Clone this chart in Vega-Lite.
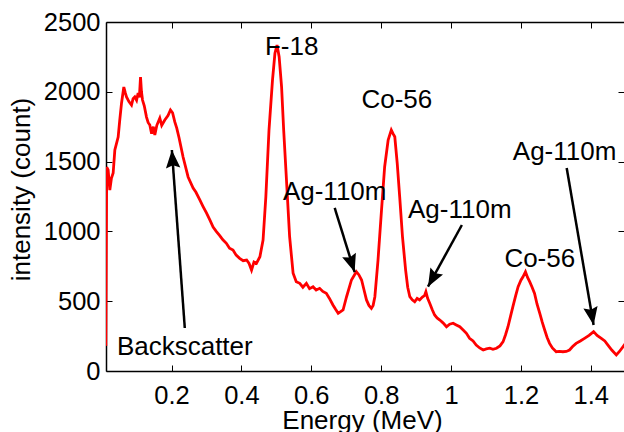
{
  "$schema": "https://vega.github.io/schema/vega-lite/v6.json",
  "autosize": "none",
  "padding": {"left": 106, "top": 22, "right": 0, "bottom": 61},
  "width": 518,
  "height": 349,
  "background": "white",
  "config": {
    "view": {"stroke": null},
    "font": "Liberation Sans",
    "axis": {
      "labelFont": "Liberation Sans", "labelFontSize": 25.5, "labelColor": "#000",
      "titleFont": "Liberation Sans", "titleFontSize": 26, "titleFontWeight": "normal", "titleColor": "#000",
      "domainColor": "#000", "domainWidth": 1.5, "tickColor": "#000", "tickWidth": 1, "tickSize": -6,
      "grid": false
    }
  },
  "datasets": {
    "spectrum": [
      {"e": 0.012, "c": 180}, {"e": 0.0145, "c": 1460}, {"e": 0.0186, "c": 1440}, {"e": 0.0234, "c": 1296},
      {"e": 0.028, "c": 1380}, {"e": 0.033, "c": 1418}, {"e": 0.0378, "c": 1583}, {"e": 0.0473, "c": 1676},
      {"e": 0.052, "c": 1800}, {"e": 0.057, "c": 1920}, {"e": 0.0635, "c": 2034}, {"e": 0.068, "c": 1990},
      {"e": 0.0712, "c": 1963}, {"e": 0.078, "c": 1930}, {"e": 0.0855, "c": 1905}, {"e": 0.09, "c": 1950},
      {"e": 0.095, "c": 1963}, {"e": 0.1, "c": 1940}, {"e": 0.1044, "c": 1991}, {"e": 0.108, "c": 1960},
      {"e": 0.1113, "c": 2106}, {"e": 0.114, "c": 2000}, {"e": 0.117, "c": 1941}, {"e": 0.122, "c": 1900},
      {"e": 0.1284, "c": 1819}, {"e": 0.133, "c": 1780}, {"e": 0.1379, "c": 1762}, {"e": 0.143, "c": 1700},
      {"e": 0.148, "c": 1750}, {"e": 0.1522, "c": 1690}, {"e": 0.158, "c": 1760}, {"e": 0.1665, "c": 1812},
      {"e": 0.172, "c": 1760}, {"e": 0.1808, "c": 1798}, {"e": 0.19, "c": 1830}, {"e": 0.197, "c": 1870},
      {"e": 0.203, "c": 1850}, {"e": 0.2094, "c": 1784}, {"e": 0.215, "c": 1740}, {"e": 0.2217, "c": 1669},
      {"e": 0.2331, "c": 1533}, {"e": 0.2475, "c": 1390}, {"e": 0.2618, "c": 1311}, {"e": 0.27, "c": 1280},
      {"e": 0.281, "c": 1225}, {"e": 0.29, "c": 1180}, {"e": 0.3, "c": 1132}, {"e": 0.31, "c": 1080},
      {"e": 0.319, "c": 1031}, {"e": 0.328, "c": 1000}, {"e": 0.338, "c": 970}, {"e": 0.347, "c": 940},
      {"e": 0.357, "c": 915}, {"e": 0.366, "c": 880}, {"e": 0.376, "c": 867}, {"e": 0.385, "c": 830},
      {"e": 0.395, "c": 807}, {"e": 0.405, "c": 790}, {"e": 0.415, "c": 795}, {"e": 0.422, "c": 770},
      {"e": 0.429, "c": 723}, {"e": 0.436, "c": 780}, {"e": 0.443, "c": 771}, {"e": 0.453, "c": 819},
      {"e": 0.462, "c": 938}, {"e": 0.47, "c": 1249}, {"e": 0.479, "c": 1726}, {"e": 0.489, "c": 2084},
      {"e": 0.496, "c": 2276}, {"e": 0.502, "c": 2335}, {"e": 0.508, "c": 2251}, {"e": 0.515, "c": 2036},
      {"e": 0.521, "c": 1726}, {"e": 0.529, "c": 1368}, {"e": 0.538, "c": 962}, {"e": 0.548, "c": 700},
      {"e": 0.557, "c": 640}, {"e": 0.567, "c": 628}, {"e": 0.576, "c": 600}, {"e": 0.586, "c": 628},
      {"e": 0.595, "c": 590}, {"e": 0.605, "c": 604}, {"e": 0.614, "c": 580}, {"e": 0.624, "c": 592},
      {"e": 0.633, "c": 570}, {"e": 0.643, "c": 556}, {"e": 0.652, "c": 520}, {"e": 0.662, "c": 473},
      {"e": 0.67, "c": 440}, {"e": 0.677, "c": 413}, {"e": 0.684, "c": 425}, {"e": 0.691, "c": 437},
      {"e": 0.701, "c": 532}, {"e": 0.715, "c": 652}, {"e": 0.729, "c": 711}, {"e": 0.736, "c": 690},
      {"e": 0.744, "c": 652}, {"e": 0.751, "c": 580}, {"e": 0.758, "c": 509}, {"e": 0.765, "c": 470},
      {"e": 0.772, "c": 449}, {"e": 0.777, "c": 470}, {"e": 0.782, "c": 532}, {"e": 0.791, "c": 795},
      {"e": 0.801, "c": 1153}, {"e": 0.81, "c": 1463}, {"e": 0.82, "c": 1655}, {"e": 0.829, "c": 1726},
      {"e": 0.834, "c": 1700}, {"e": 0.839, "c": 1678}, {"e": 0.846, "c": 1488}, {"e": 0.853, "c": 1249},
      {"e": 0.861, "c": 962}, {"e": 0.87, "c": 723}, {"e": 0.876, "c": 600}, {"e": 0.882, "c": 532},
      {"e": 0.889, "c": 510}, {"e": 0.896, "c": 496}, {"e": 0.903, "c": 520}, {"e": 0.91, "c": 509},
      {"e": 0.918, "c": 530}, {"e": 0.924, "c": 540}, {"e": 0.928, "c": 568}, {"e": 0.933, "c": 520},
      {"e": 0.939, "c": 485}, {"e": 0.946, "c": 440}, {"e": 0.953, "c": 401}, {"e": 0.96, "c": 380},
      {"e": 0.968, "c": 365}, {"e": 0.977, "c": 345}, {"e": 0.987, "c": 317}, {"e": 0.996, "c": 335},
      {"e": 1.006, "c": 342}, {"e": 1.015, "c": 330}, {"e": 1.025, "c": 317}, {"e": 1.034, "c": 295},
      {"e": 1.044, "c": 270}, {"e": 1.053, "c": 234}, {"e": 1.063, "c": 215}, {"e": 1.072, "c": 186},
      {"e": 1.082, "c": 165}, {"e": 1.092, "c": 150}, {"e": 1.101, "c": 158}, {"e": 1.111, "c": 163},
      {"e": 1.12, "c": 155}, {"e": 1.13, "c": 163}, {"e": 1.14, "c": 180}, {"e": 1.149, "c": 210},
      {"e": 1.156, "c": 260}, {"e": 1.163, "c": 317}, {"e": 1.17, "c": 390}, {"e": 1.177, "c": 461},
      {"e": 1.185, "c": 540}, {"e": 1.192, "c": 604}, {"e": 1.2, "c": 650}, {"e": 1.206, "c": 675},
      {"e": 1.213, "c": 711}, {"e": 1.219, "c": 670}, {"e": 1.225, "c": 640}, {"e": 1.232, "c": 600},
      {"e": 1.239, "c": 556}, {"e": 1.246, "c": 480}, {"e": 1.254, "c": 413}, {"e": 1.261, "c": 350},
      {"e": 1.268, "c": 294}, {"e": 1.275, "c": 240}, {"e": 1.282, "c": 198}, {"e": 1.29, "c": 165},
      {"e": 1.301, "c": 138}, {"e": 1.31, "c": 140}, {"e": 1.32, "c": 138}, {"e": 1.33, "c": 140},
      {"e": 1.339, "c": 150}, {"e": 1.348, "c": 175}, {"e": 1.358, "c": 198}, {"e": 1.37, "c": 215},
      {"e": 1.382, "c": 234}, {"e": 1.395, "c": 255}, {"e": 1.408, "c": 282}, {"e": 1.418, "c": 255},
      {"e": 1.43, "c": 234}, {"e": 1.44, "c": 215}, {"e": 1.449, "c": 186}, {"e": 1.46, "c": 150},
      {"e": 1.473, "c": 115}, {"e": 1.482, "c": 140}, {"e": 1.492, "c": 174}, {"e": 1.5, "c": 200}
    ],
    "arrows": [
      {"id": "a1", "x": 0.238, "y": 308, "x2": 0.201, "y2": 1583},
      {"id": "a2", "x": 0.667, "y": 1168, "x2": 0.724, "y2": 709},
      {"id": "a3", "x": 1.031, "y": 1046, "x2": 0.934, "y2": 604},
      {"id": "a4", "x": 1.331, "y": 1454, "x2": 1.408, "y2": 330}
    ],
    "labels": [
      {"t": "F-18", "x": 0.544, "y": 2264},
      {"t": "Co-56", "x": 0.845, "y": 1884},
      {"t": "Ag-110m", "x": 0.667, "y": 1225},
      {"t": "Ag-110m", "x": 1.025, "y": 1094},
      {"t": "Ag-110m", "x": 1.325, "y": 1511},
      {"t": "Co-56", "x": 1.254, "y": 747},
      {"t": "Backscatter", "x": 0.238, "y": 115}
    ]
  },
  "resolve": {"axis": {"x": "independent", "y": "independent"}},
  "layer": [
    {
      "data": {"name": "spectrum"},
      "mark": {"type": "line", "color": "#ff0000", "strokeWidth": 2.8, "clip": true},
      "encoding": {
        "x": {"field": "e", "type": "quantitative",
              "scale": {"domain": [0.0125, 1.495], "nice": false, "zero": false},
              "axis": {"orient": "bottom", "values": [0.2, 0.4, 0.6, 0.8, 1, 1.2, 1.4], "format": "~g",
                       "labelPadding": 18, "title": "Energy (MeV)",
                       "titleX": 256, "titleY": 57, "titleBaseline": "alphabetic", "titleAnchor": null, "titleAlign": "center"}},
        "y": {"field": "c", "type": "quantitative",
              "scale": {"domain": [0, 2500], "nice": false},
              "axis": {"orient": "left", "values": [0, 500, 1000, 1500, 2000, 2500], "format": "d",
                       "labelPadding": 12, "title": "intensity (count)",
                       "titleX": -77, "titleY": 167, "titleAngle": -90, "titleBaseline": "alphabetic", "titleAlign": "center"}}
      }
    },
    {
      "data": {"name": "arrows"},
      "mark": {"type": "rule", "color": "#000", "strokeWidth": 2.5},
      "encoding": {
        "x": {"field": "x", "type": "quantitative",
              "axis": {"orient": "top", "values": [0.2, 0.4, 0.6, 0.8, 1, 1.2, 1.4], "labels": false, "title": null}},
        "y": {"field": "y", "type": "quantitative",
              "axis": {"orient": "right", "values": [0, 500, 1000, 1500, 2000, 2500], "labels": false, "title": null, "domain": false}},
        "x2": {"field": "x2"},
        "y2": {"field": "y2"}
      }
    },
    {
      "data": {"name": "arrows"},
      "transform": [{"filter": "datum.id == 'a1'"}],
      "mark": {"type": "point", "shape": "M0,0L-0.8,2L0,1.7L0.8,2Z", "size": 324, "filled": true, "color": "#000", "opacity": 1, "angle": 356},
      "encoding": {
        "x": {"field": "x2", "type": "quantitative", "axis": null},
        "y": {"field": "y2", "type": "quantitative", "axis": null}
      }
    },
    {
      "data": {"name": "arrows"},
      "transform": [{"filter": "datum.id == 'a2'"}],
      "mark": {"type": "point", "shape": "M0,0L-0.8,2L0,1.7L0.8,2Z", "size": 324, "filled": true, "color": "#000", "opacity": 1, "angle": 162},
      "encoding": {
        "x": {"field": "x2", "type": "quantitative", "axis": null},
        "y": {"field": "y2", "type": "quantitative", "axis": null}
      }
    },
    {
      "data": {"name": "arrows"},
      "transform": [{"filter": "datum.id == 'a3'"}],
      "mark": {"type": "point", "shape": "M0,0L-0.8,2L0,1.7L0.8,2Z", "size": 324, "filled": true, "color": "#000", "opacity": 1, "angle": 209},
      "encoding": {
        "x": {"field": "x2", "type": "quantitative", "axis": null},
        "y": {"field": "y2", "type": "quantitative", "axis": null}
      }
    },
    {
      "data": {"name": "arrows"},
      "transform": [{"filter": "datum.id == 'a4'"}],
      "mark": {"type": "point", "shape": "M0,0L-0.8,2L0,1.7L0.8,2Z", "size": 324, "filled": true, "color": "#000", "opacity": 1, "angle": 170},
      "encoding": {
        "x": {"field": "x2", "type": "quantitative", "axis": null},
        "y": {"field": "y2", "type": "quantitative", "axis": null}
      }
    },
    {
      "data": {"name": "labels"},
      "mark": {"type": "text", "font": "Liberation Sans", "fontSize": 26, "color": "#000", "align": "center", "baseline": "alphabetic"},
      "encoding": {
        "x": {"field": "x", "type": "quantitative", "axis": null},
        "y": {"field": "y", "type": "quantitative", "axis": null},
        "text": {"field": "t"}
      }
    }
  ]
}
